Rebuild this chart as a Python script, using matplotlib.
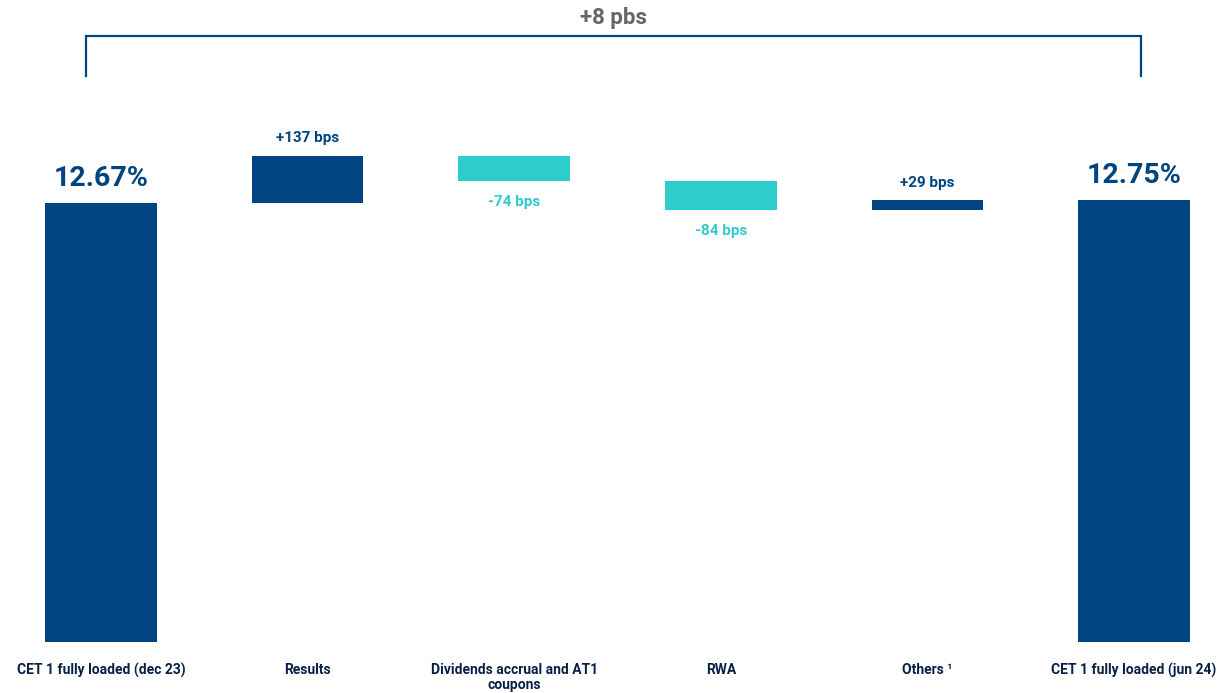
import matplotlib.pyplot as plt

NAVY = '#004481'
AQUA = '#2DCCCD'
GREY = '#666666'

plt.rcParams['font.family'] = ['Roboto', 'DejaVu Sans']

# data (CET1 in %, moves in bps)
categories = ['CET 1 fully loaded (dec 23)', 'Results', 'Dividends accrual and AT1\ncoupons',
              'RWA', 'Others ¹', 'CET 1 fully loaded (jun 24)']
start_value = 12.67
end_value = 12.75
moves_bps = [137, -74, -84, 29]
total_label = '+8 pbs'

fig = plt.figure(figsize=(12.26, 6.93), dpi=100)
ax = fig.add_axes([0.0015, 51 / 693, 1223 / 1226, 642 / 693])

w = 0.54
ax.bar(0, start_value, width=w, color=NAVY)
ax.text(0, start_value + 0.33, '%.2f%%' % start_value, ha='center', va='bottom',
        fontsize=20.5, fontweight='bold', color=NAVY)

level = start_value
for i, m in enumerate(moves_bps, start=1):
    d = m / 100.0
    col = NAVY if m > 0 else AQUA
    ax.bar(i, d, bottom=level, width=w, color=col)
    lab = '%+d bps' % m
    if m > 0:
        ax.text(i, level + d + 0.3, lab, ha='center', va='bottom',
                fontsize=11, fontweight='bold', color=col)
    else:
        ax.text(i, level + d - 0.39, lab, ha='center', va='top',
                fontsize=11, fontweight='bold', color=col)
    level += d

ax.bar(5, end_value, width=w, color=NAVY)
ax.text(5, end_value + 0.33, '%.2f%%' % end_value, ha='center', va='bottom',
        fontsize=20.5, fontweight='bold', color=NAVY)

# bracket on top
y_br, y_low = 17.49, 16.33
x0, x1 = -0.073, 5.034
ax.plot([x0, x0, x1, x1], [y_low, y_br, y_br, y_low], color=NAVY, lw=1.6,
        solid_joinstyle='miter')
ax.text((x0 + x1) / 2, y_br + 0.2, total_label, ha='center', va='bottom',
        fontsize=16, fontweight='bold', color=GREY)

ax.set_xlim(-0.48, 5.44)
ax.set_ylim(0, 18.53)
ax.set_xticks(range(len(categories)))
ax.set_xticklabels(categories, fontsize=10, fontweight='bold', color='#072146',
                   linespacing=1.15)
ax.tick_params(axis='x', length=0, pad=15)
ax.set_yticks([])
for s in ax.spines.values():
    s.set_visible(False)

fig.savefig('out.png', dpi=100)
